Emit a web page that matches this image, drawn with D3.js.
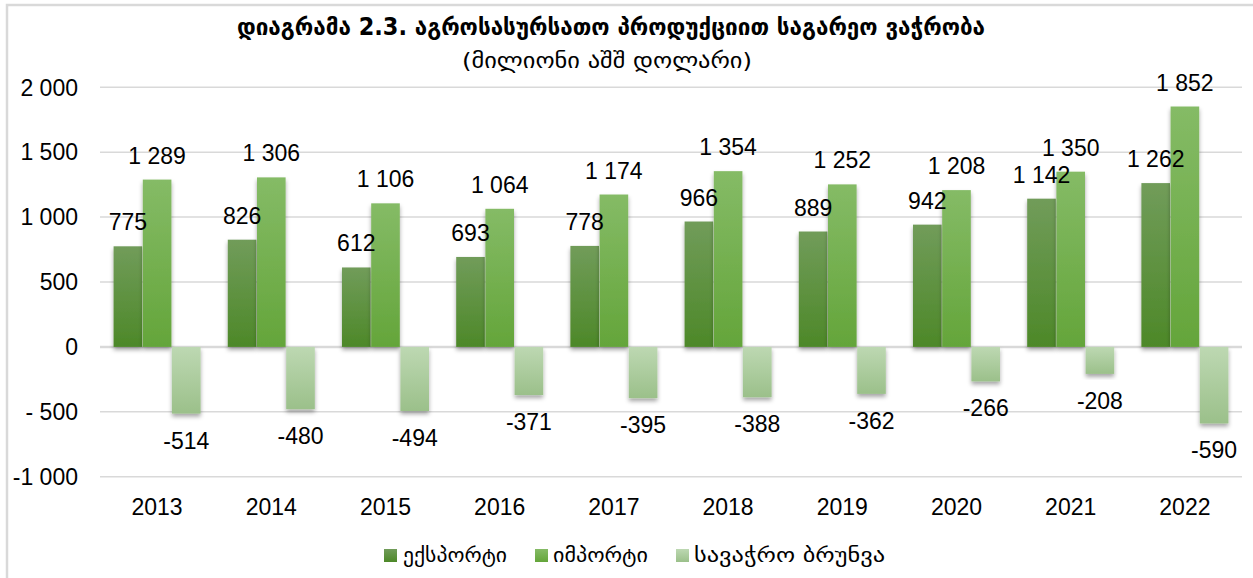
<!DOCTYPE html>
<html><head><meta charset="utf-8">
<script src="https://cdn.jsdelivr.net/npm/d3@7"></script>
<style>
html,body{margin:0;padding:0;background:#fff;}
svg{display:block;}
</style></head>
<body>
<svg id="c" width="1253" height="578"></svg>
<script>
const years = ["2013","2014","2015","2016","2017","2018","2019","2020","2021","2022"];
const exportVals = [775, 826, 612, 693, 778, 966, 889, 942, 1142, 1262];
const importVals = [1289, 1306, 1106, 1064, 1174, 1354, 1252, 1208, 1350, 1852];
const balanceVals = [-514, -480, -494, -371, -395, -388, -362, -266, -208, -590];
const seriesNames = ["ექსპორტი", "იმპორტი", "სავაჭრო ბრუნვა"];
const tickValues = [2000, 1500, 1000, 500, 0, -500, -1000];
const tickLabels = ["2 000", "1 500", "1 000", "500", "0", "- 500", "-1 000"];
const titleText = "დიაგრამა 2.3. აგროსასურსათო პროდუქციით საგარეო ვაჭრობა";
const subtitleText = "(მილიონი აშშ დოლარი)";

const svg = d3.select("#c");
const W = 1253, H = 578;
const geo = "'DejaVu Sans', 'Noto Sans', sans-serif";
const num = "'Liberation Sans', Arial, sans-serif";

// frame
svg.append("path").attr("d", `M7,${H+5} L7,5 L${W+5},5`).attr("fill","none").attr("stroke","#d9d9d9").attr("stroke-width",2.5);

const defs = svg.append("defs");
const grads = [
  {id:"gExp", top:"#719c5a", bot:"#4d8828"},
  {id:"gImp", top:"#85bb66", bot:"#64a53a"},
  {id:"gBal", top:"#bdd8b2", bot:"#9bc08a"}
];
grads.forEach(g=>{
  const lg = defs.append("linearGradient").attr("id",g.id).attr("x1",0).attr("y1",0).attr("x2",0).attr("y2",1);
  lg.append("stop").attr("offset","0%").attr("stop-color",g.top);
  lg.append("stop").attr("offset","100%").attr("stop-color",g.bot);
});
const f = defs.append("filter").attr("id","sh").attr("x","-20%").attr("y","-20%").attr("width","140%").attr("height","140%");
f.append("feDropShadow").attr("dx",0).attr("dy",3).attr("stdDeviation",2.2).attr("flood-color","#000").attr("flood-opacity",0.35);

const x = d3.scaleBand().domain(years).range([100,1242]).paddingInner(0.238).paddingOuter(0.119);
const keys = ["exp","imp","bal"];
const xs = d3.scaleBand().domain(keys).range([0, x.bandwidth()]).paddingInner(0.02);
const y = d3.scaleLinear().domain([-1000, 2000]).range([476.7, 87.3]);

// gridlines
svg.append("g").selectAll("line").data(tickValues).join("line")
  .attr("x1",100).attr("x2",1242)
  .attr("y1",d=>y(d)).attr("y2",d=>y(d))
  .attr("stroke","#d9d9d9").attr("stroke-width",d=>d===0?2.5:1.5);

// y tick labels
svg.append("g").selectAll("text").data(tickValues).join("text")
  .attr("x",78).attr("y",d=>y(d)).attr("dy","0.36em")
  .attr("text-anchor","end").attr("font-family",num).attr("font-size",23).attr("fill","#000")
  .text((d,i)=>tickLabels[i]);

const data = years.map((yr,i)=>({yr, exp:exportVals[i], imp:importVals[i], bal:balanceVals[i]}));
const fill = {exp:"url(#gExp)", imp:"url(#gImp)", bal:"url(#gBal)"};

const groups = svg.append("g").selectAll("g").data(data).join("g")
  .attr("transform",d=>`translate(${x(d.yr)},0)`);

keys.forEach(k=>{
  groups.append("rect")
    .attr("x",xs(k)).attr("width",xs.bandwidth())
    .attr("y",d=>Math.min(y(0),y(d[k])))
    .attr("height",d=>Math.abs(y(d[k])-y(0)))
    .attr("fill",fill[k]).attr("filter","url(#sh)");
});

const fmt = v => (v<0?"-":"") + d3.format(",")(Math.abs(v)).replace(/,/g," ");
keys.forEach(k=>{
  groups.append("text")
    .attr("x",xs(k)+xs.bandwidth()/2)
    .attr("y",d=> d[k]>=0 ? y(d[k])-16 : y(d[k])+35)
    .attr("text-anchor","middle").attr("font-family",num).attr("font-size",23).attr("fill","#000")
    .text(d=>fmt(d[k]));
});

// x labels
svg.append("g").selectAll("text").data(years).join("text")
  .attr("x",d=>x(d)+x.bandwidth()/2).attr("y",515)
  .attr("text-anchor","middle").attr("font-family",num).attr("font-size",23).attr("fill","#000")
  .text(d=>d);

// title
svg.append("text").attr("x",611).attr("y",35).attr("text-anchor","middle")
  .attr("font-family",geo).attr("font-weight","bold").attr("font-size",24).attr("fill","#000")
  .attr("textLength",748).attr("lengthAdjust","spacingAndGlyphs")
  .text(titleText);
svg.append("text").attr("x",607).attr("y",68).attr("text-anchor","middle")
  .attr("font-family",geo).attr("font-size",21).attr("fill","#000")
  .attr("textLength",290).attr("lengthAdjust","spacingAndGlyphs")
  .text(subtitleText);

// legend
const legend = [
  {name:seriesNames[0], fill:"url(#gExp)", sx:384, tx:403, tw:104},
  {name:seriesNames[1], fill:"url(#gImp)", sx:535, tx:553, tw:95},
  {name:seriesNames[2], fill:"url(#gBal)", sx:676, tx:694, tw:191}
];
const lg = svg.append("g").selectAll("g").data(legend).join("g");
lg.append("rect").attr("x",d=>d.sx).attr("y",549).attr("width",13).attr("height",13).attr("fill",d=>d.fill);
lg.append("text").attr("x",d=>d.tx).attr("y",562)
  .attr("font-family",geo).attr("font-size",20).attr("fill","#000")
  .attr("textLength",d=>d.tw).attr("lengthAdjust","spacingAndGlyphs")
  .text(d=>d.name);
</script>
</body></html>
